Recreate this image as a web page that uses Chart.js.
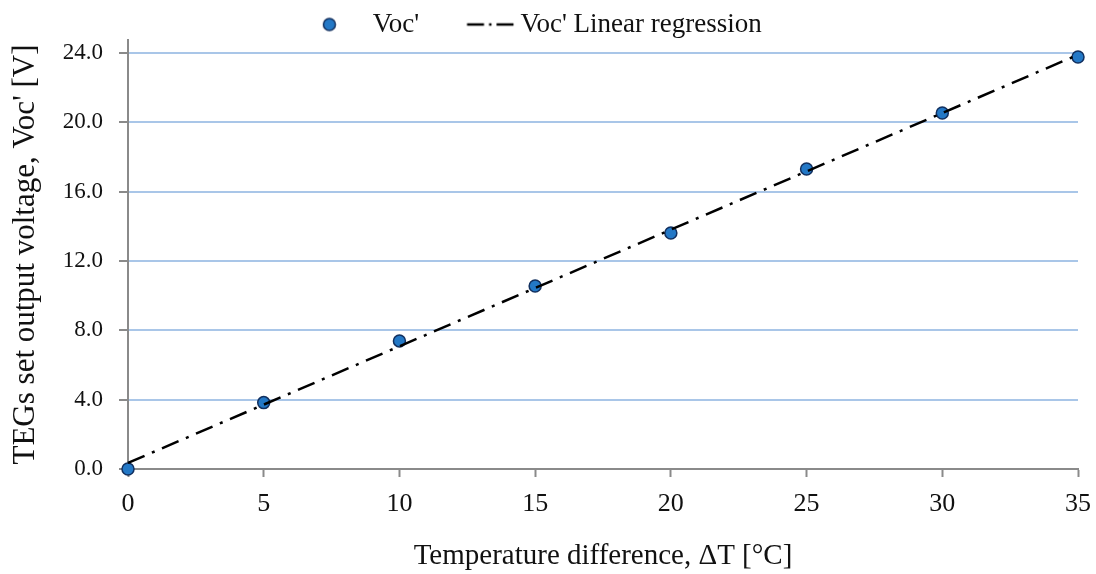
<!DOCTYPE html>
<html>
<head>
<meta charset="utf-8">
<script src="https://cdn.jsdelivr.net/npm/chart.js@4.4.1/dist/chart.umd.min.js"></script>
<style>
html, body { margin: 0; padding: 0; background: #fff; }
</style>
</head>
<body>
<canvas id="chart" width="1096" height="574"></canvas>
<script>
// values
const deltaT = [0, 5, 10, 15, 20, 25, 30, 35];
const vocValues = [0.0, 3.83, 7.39, 10.56, 13.62, 17.31, 20.54, 23.77];
const regressionX = [0, 35];
const regressionY = [0.35, 23.9];
const xTicks = [0, 5, 10, 15, 20, 25, 30, 35];
const yTicks = [0, 4, 8, 12, 16, 20, 24];

const fontFamily = "'Liberation Serif', 'Times New Roman', serif";
const textColor = '#111';
const axisGray = '#8a8a8a';
const gridBlue = '#a9c6e8';
const pointFill = '#2378c6';
const pointEdge = '#12305f';
const legendBoxWidth = 43;

// small canvases used as legend symbols
function makeDotIcon() {
    const c = document.createElement('canvas');
    c.width = 60;
    c.height = 18;
    const g = c.getContext('2d');
    g.beginPath();
    g.arc(21.6, 9, 6, 0, Math.PI * 2);
    g.fillStyle = pointFill;
    g.fill();
    g.lineWidth = 1.5;
    g.strokeStyle = pointEdge;
    g.stroke();
    return c;
}

function makeDashIcon() {
    const c = document.createElement('canvas');
    c.width = 64;
    c.height = 6;
    const g = c.getContext('2d');
    g.setLineDash([17, 5, 2.5, 5]);
    g.lineWidth = 2.5;
    g.strokeStyle = '#000';
    g.beginPath();
    g.moveTo(13.6, 3);
    g.lineTo(64, 3);
    g.stroke();
    return c;
}

const dotIcon = makeDotIcon();
const dashIcon = makeDashIcon();

const ctx = document.getElementById('chart').getContext('2d');

const chart = new Chart(ctx, {
    type: 'scatter',
    data: {
        datasets: [
            {
                label: "Voc'",
                data: deltaT.map((x, i) => ({ x: x, y: vocValues[i] })),
                pointRadius: 6,
                pointHoverRadius: 6,
                backgroundColor: pointFill,
                borderColor: pointEdge,
                borderWidth: 1.5,
                clip: false,
                order: 1
            },
            {
                label: "Voc' Linear regression",
                type: 'line',
                data: regressionX.map((x, i) => ({ x: x, y: regressionY[i] })),
                borderColor: '#000',
                borderWidth: 2.5,
                borderDash: [18, 8, 3, 8],
                pointRadius: 0,
                fill: false,
                clip: false,
                order: 0
            }
        ]
    },
    options: {
        responsive: false,
        animation: false,
        layout: { padding: { left: 0, right: 18, top: 0, bottom: 0 } },
        plugins: {
            tooltip: { enabled: false },
            legend: {
                position: 'top',
                maxHeight: 40,
                labels: {
                    usePointStyle: true,
                    pointStyleWidth: legendBoxWidth,
                    padding: 11,
                    color: textColor,
                    font: { family: fontFamily, size: 27 },
                    generateLabels: chart => {
                        const items = Chart.defaults.plugins.legend.labels.generateLabels(chart);
                        items.sort((a, b) => a.datasetIndex - b.datasetIndex);
                        items[0].pointStyle = dotIcon;
                        items[0].text = items[0].text + '     ';
                        items[1].pointStyle = dashIcon;
                        return items;
                    }
                }
            }
        },
        scales: {
            x: {
                type: 'linear',
                min: 0,
                max: 35,
                afterBuildTicks: axis => { axis.ticks = xTicks.map(v => ({ value: v })); },
                afterFit: axis => {
                    axis.height = 105;
                    axis.paddingRight = 18;
                },
                grid: {
                    drawOnChartArea: false,
                    drawTicks: true,
                    tickLength: 8,
                    tickColor: axisGray,
                    tickWidth: 2
                },
                border: { color: axisGray, width: 2 },
                ticks: {
                    color: textColor,
                    font: { family: fontFamily, size: 26 },
                    padding: 12,
                    maxRotation: 0
                },
                title: {
                    display: true,
                    text: 'Temperature difference, ΔT [°C]',
                    color: textColor,
                    font: { family: fontFamily, size: 29 },
                    padding: { top: 0, bottom: 0 }
                }
            },
            y: {
                min: 0,
                max: 24.75,
                afterBuildTicks: axis => { axis.ticks = yTicks.map(v => ({ value: v })); },
                afterFit: axis => { axis.width = 128; },
                grid: {
                    color: c => (c.tick && c.tick.value === 0) ? 'rgba(0,0,0,0)' : gridBlue,
                    lineWidth: 2,
                    tickLength: 9,
                    tickColor: axisGray,
                    tickWidth: 2
                },
                border: { color: axisGray, width: 2 },
                ticks: {
                    color: textColor,
                    font: { family: fontFamily, size: 23 },
                    padding: 16,
                    callback: v => v.toFixed(1)
                },
                title: {
                    display: true,
                    text: "TEGs set output voltage, Voc' [V]",
                    color: textColor,
                    font: { family: fontFamily, size: 31 },
                    padding: { top: 7, bottom: 0 }
                }
            }
        }
    }
});
</script>
</body>
</html>
